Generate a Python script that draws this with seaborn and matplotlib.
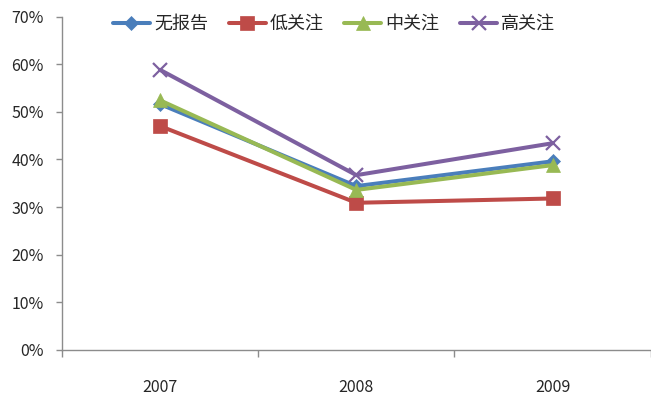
import matplotlib
matplotlib.use("Agg")
import matplotlib.pyplot as plt
from matplotlib.ticker import PercentFormatter, FixedLocator
import seaborn as sns
import pandas as pd

# 数据
years = ["2007", "2008", "2009"]
groups = ["无报告", "低关注", "中关注", "高关注"]
no_report = [0.516, 0.344, 0.396]
low_focus = [0.470, 0.309, 0.318]
mid_focus = [0.524, 0.336, 0.388]
high_focus = [0.588, 0.367, 0.434]

colors = ["#4A7EBB", "#BE4B48", "#98B954", "#7D60A0"]
markers = ["D", "s", "^", "x"]
msizes = [7, 9.5, 9.5, 10]

sns.set_style("white")
plt.rcParams['font.family'] = ['Noto Sans CJK SC', 'DejaVu Sans']

# 长表
rows = []
for g, vals in zip(groups, [no_report, low_focus, mid_focus, high_focus]):
    for i, v in enumerate(vals):
        rows.append({"pos": i, "组别": g, "比例": v})
df = pd.DataFrame(rows)

fig = plt.figure(figsize=(6.51, 3.99), dpi=100)
ax = fig.add_axes([62 / 651, 1 - 350 / 399, 1 - 62 / 651 - 0.0005, (350 - 16.5) / 399])

# seaborn 不允许混用实心和线形标记，先用实心标记占位，之后再换成 x
sns.lineplot(data=df, x="pos", y="比例", hue="组别", style="组别",
             hue_order=groups, style_order=groups, palette=colors,
             markers=["D", "s", "^", "o"], dashes=False, linewidth=2.9,
             errorbar=None, legend=False, ax=ax)

for line, c, ms, mk in zip(ax.lines[:4], colors, msizes, markers):
    line.set_marker(mk)
    line.set_markeredgecolor(c)
    line.set_markerfacecolor(c)
    line.set_markersize(ms)
    line.set_markeredgewidth(1.6 if mk == "x" else 0.5)

# 坐标轴
ax.set_xlim(-0.5, 2.5)
ax.set_ylim(0, 0.7)
ax.set_xticks(range(len(years)))
ax.set_xticklabels(years)
ax.xaxis.set_minor_locator(FixedLocator([-0.5, 0.5, 1.5, 2.5]))
ax.set_yticks([i / 10 for i in range(8)])
ax.yaxis.set_major_formatter(PercentFormatter(1.0, decimals=0))
ax.set_xlabel("")
ax.set_ylabel("")

for s in ["top", "right"]:
    ax.spines[s].set_visible(False)
for s in ["left", "bottom"]:
    ax.spines[s].set_color("#8C8C8C")
    ax.spines[s].set_linewidth(1.0)

ax.tick_params(axis="y", which="major", direction="out", length=4, width=1,
               color="#8C8C8C", pad=9, labelsize=11.5, left=True)
ax.tick_params(axis="x", which="major", length=0, pad=21, labelsize=11.5, bottom=True)
ax.tick_params(axis="x", which="minor", direction="out", length=5, width=1,
               color="#8C8C8C", bottom=True)

leg = ax.legend(ax.lines[:4], groups, loc="center", ncol=4, frameon=False,
                bbox_to_anchor=(334 / 651, 1 - 24 / 399), bbox_transform=fig.transFigure,
                fontsize=13, handlelength=2.05, handletextpad=0.22, columnspacing=1.15)

fig.savefig("out.png", dpi=100)
